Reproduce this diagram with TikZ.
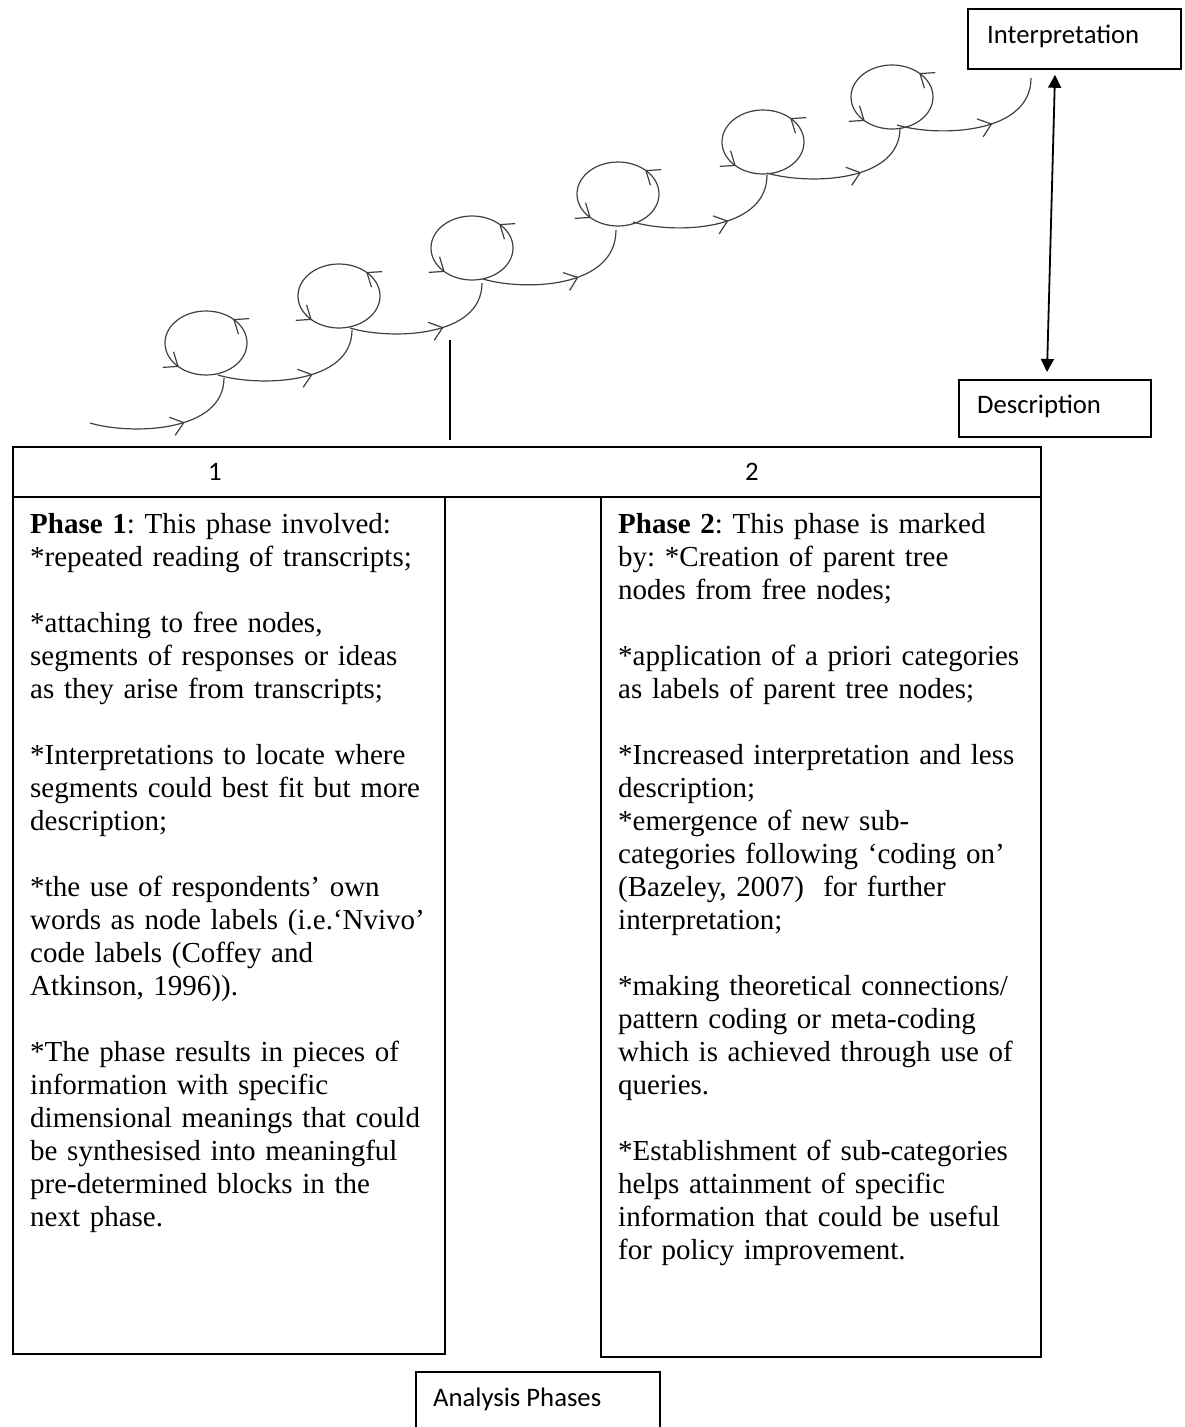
\documentclass[tikz,border=0pt]{standalone}
\usepackage{fontspec}
\setmainfont{Liberation Serif}
\newfontfamily\labfont{Carlito}
\usetikzlibrary{arrows.meta,decorations.markings,calc}
\frenchspacing
\begin{document}
\begin{tikzpicture}[x=1pt,y=-1pt,
  tblbox/.style={draw, line width=2.4pt, rectangle, inner sep=0pt, anchor=north west},
  labbox/.style={draw, line width=1.8pt, rectangle, inner sep=0pt, anchor=north west},
  labtext/.style={font=\labfont\fontsize{26.7}{32}\selectfont, inner sep=0pt},
  bodytext/.style={font=\fontsize{29}{33}\selectfont, align=left, text width=415pt, inner sep=0pt, anchor=base west},
  spir/.style={line width=1.2pt, draw=black!75},
  spirtip/.style={line width=1.2pt, black!75},
  loopmarks/.style={postaction={decorate}, decoration={markings,
      mark=at position 0.125 with {\arrow[spirtip]{Straight Barb[length=12pt,width=19pt]}},
      mark=at position 0.625 with {\arrow[spirtip]{Straight Barb[length=12pt,width=19pt]}}}},
  connmark/.style={postaction={decorate}, decoration={markings,
      mark=at position #1 with {\arrow[spirtip]{Straight Barb[length=12pt,width=19pt]}}}},
  dblarrow/.style={line width=1.8pt, {Triangle[length=13pt,width=13pt]}-{Triangle[length=13pt,width=13pt]}}
]
\useasboundingbox (0,0) rectangle (1185,1427);
\clip (0,0) rectangle (1185,1427);

% ---------- boxes on the right ----------
\node[labbox, minimum width=213pt, minimum height=60pt] (interp) at (967,8) {};
\node[labtext, anchor=base west] (interpT) at (987,43) {Interpretation};
\node[labbox, minimum width=192pt, minimum height=57pt] (desc) at (958,379) {};
\node[labtext, anchor=base west] (descT) at (977,413) {Description};
\coordinate (itop) at ($(interp.south west)+(88,5)$);
\coordinate (dbot) at ($(desc.north west)+(89,-7)$);
\draw[dblarrow] (itop) -- (dbot);

% ---------- spiral ----------
\foreach \n/\cx/\cy in {1/206/343, 2/339/296, 3/472/248, 4/618/194, 5/763/142, 6/892/97}{
  \coordinate (L\n) at (\cx,\cy);
  \draw[spir, loopmarks] ($(L\n)+(41,0)$) arc[start angle=360, end angle=0, x radius=41, y radius=32];
}
\coordinate (s0) at (90,423);  \coordinate (e0) at (224,378);
\coordinate (s1) at (218,375); \coordinate (e1) at (352,330);
\coordinate (s2) at (350,328); \coordinate (e2) at (482,283);
\coordinate (s3) at (483,279); \coordinate (e3) at (616,230);
\coordinate (s4) at (633,222); \coordinate (e4) at (767,175);
\coordinate (s5) at (767,173); \coordinate (e5) at (900,128);
\coordinate (s6) at (897,125); \coordinate (e6) at (1031,78);
\foreach \k in {0,...,6}{
  \draw[spir, connmark=0.6] (s\k) .. controls ($(s\k)+(40,12)$) and ($(e\k |- s\k)+(0,10)$) .. (e\k);
}

% ---------- table ----------
\node[tblbox, minimum width=1028pt, minimum height=50pt] (hdr) at (12,446) {};
\node[tblbox, minimum width=432pt, minimum height=857pt] (col1) at (12,496) {};
\node[tblbox, minimum width=440pt, minimum height=860pt] (col2) at (600,496) {};
\node[labtext, anchor=base] (h1) at (215,480) {1};
\node[labtext, anchor=base] (h2) at (752,480) {2};

\coordinate (vtop) at (450,340);
\draw[line width=2pt] (vtop) -- ($(vtop |- hdr.north)+(0,-6)$);

\node[bodytext] (t1) at (30,533) {\textbf{Phase 1}: This phase involved:\\
{*}repeated reading of transcripts;\\[33pt]
{*}attaching to free nodes,\\
segments of responses or ideas\\
as they arise from transcripts;\\[33pt]
{*}Interpretations to locate where\\
segments could best fit but more\\
description;\\[33pt]
{*}the use of respondents’ own\\
words as node labels (i.e.‘Nvivo’\\
code labels (Coffey and\\
Atkinson, 1996)).\\[33pt]
{*}The phase results in pieces of\\
information with specific\\
dimensional meanings that could\\
be synthesised into meaningful\\
pre-determined blocks in the\\
next phase.};

\node[bodytext] (t2) at (618,533) {\textbf{Phase 2}: This phase is marked\\
by: {*}Creation of parent tree\\
nodes from free nodes;\\[33pt]
{*}application of a priori categories\\
as labels of parent tree nodes;\\[33pt]
{*}Increased interpretation and less\\
description;\\
{*}emergence of new sub-\\
categories following ‘coding on’\\
(Bazeley, 2007)\ \ for further\\
interpretation;\\[33pt]
{*}making theoretical connections/\\
pattern coding or meta-coding\\
which is achieved through use of\\
queries.\\[33pt]
{*}Establishment of sub-categories\\
helps attainment of specific\\
information that could be useful\\
for policy improvement.};

% ---------- bottom label ----------
\node[labbox, minimum width=244pt, minimum height=80pt] (anal) at (415,1371) {};
\node[labtext, anchor=base west] (analT) at (433,1406) {Analysis Phases};
\end{tikzpicture}
\end{document}
